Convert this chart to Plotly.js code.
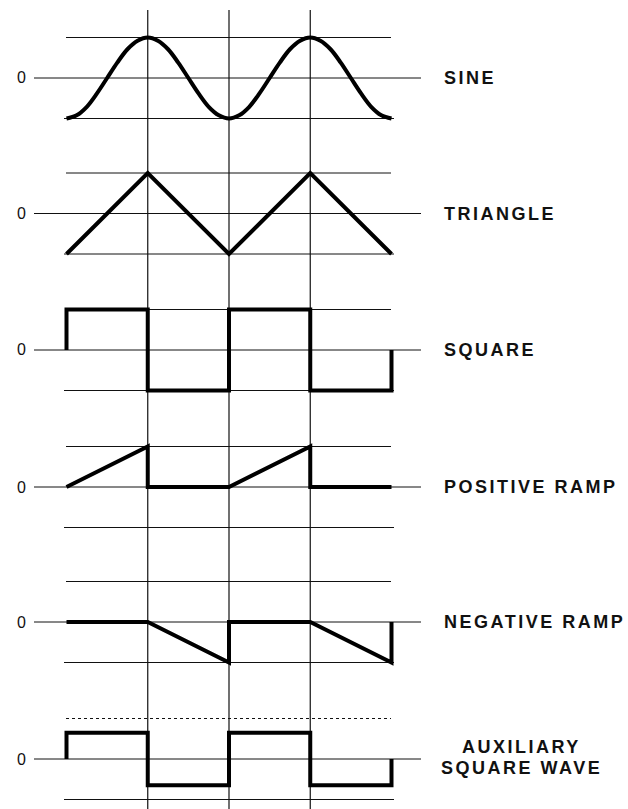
<!DOCTYPE html>
<html>
<head>
<meta charset="utf-8">
<script src="https://cdn.plot.ly/plotly-3.0.1.min.js"></script>
<style>
  html, body { margin: 0; padding: 0; background: #fff; }
  #chart { width: 628px; height: 809px; }
  .annotation-text { letter-spacing: 2.5px; }
</style>
</head>
<body>
<div id="chart"></div>
<script>
// Time axis: one unit = half a period of each waveform
const sineX = [0, 0.125, 0.25, 0.375, 0.5, 0.625, 0.75, 0.875, 1,
               1.125, 1.25, 1.375, 1.5, 1.625, 1.75, 1.875, 2,
               2.125, 2.25, 2.375, 2.5, 2.625, 2.75, 2.875, 3,
               3.125, 3.25, 3.375, 3.5, 3.625, 3.75, 3.875, 4];
const sineY = [-1, -0.92, -0.71, -0.38, 0, 0.38, 0.71, 0.92, 1,
               0.92, 0.71, 0.38, 0, -0.38, -0.71, -0.92, -1,
               -0.92, -0.71, -0.38, 0, 0.38, 0.71, 0.92, 1,
               0.92, 0.71, 0.38, 0, -0.38, -0.71, -0.92, -1];

const triangleX = [0, 1, 2, 3, 4];
const triangleY = [-1, 1, -1, 1, -1];

const squareX = [0, 0, 1, 1, 2, 2, 3, 3, 4, 4];
const squareY = [0, 1, 1, -1, -1, 1, 1, -1, -1, 0];

const posRampX = [0, 1, 1, 2, 3, 3, 4];
const posRampY = [0, 1, 0, 0, 1, 0, 0];

const negRampX = [0, 1, 2, 2, 3, 4, 4];
const negRampY = [0, 0, -1, 0, 0, -1, 0];

const auxX = [0, 0, 1, 1, 2, 2, 3, 3, 4, 4];
const auxY = [0, 0.65, 0.65, -0.65, -0.65, 0.65, 0.65, -0.65, -0.65, 0];

const waveNames = ["SINE", "TRIANGLE", "SQUARE", "POSITIVE RAMP", "NEGATIVE RAMP"];
const auxNames = ["AUXILIARY", "SQUARE WAVE"];
const zeroLabel = "0";
const markerTimes = [1, 2, 3];

const waves = [
  [sineX, sineY, "spline"],
  [triangleX, triangleY, "linear"],
  [squareX, squareY, "linear"],
  [posRampX, posRampY, "linear"],
  [negRampX, negRampY, "linear"],
  [auxX, auxY, "linear"]
];

// Layout geometry (pixels)
const W = 628, H = 809;
const x0px = 66.5, unitPx = 81.25;          // x = 0 position and width of one unit
const zeroRows = [78, 213.5, 350, 487, 622, 759]; // zero line of each strip
const pxPerY = 40.5, yHalf = 1.2;
const toX = px => (px - x0px) / unitPx;

const layout = {
  width: W, height: H,
  margin: {l: 0, r: 0, t: 0, b: 0, pad: 0},
  paper_bgcolor: "#fff", plot_bgcolor: "rgba(0,0,0,0)",
  showlegend: false,
  xaxis: {range: [toX(0), toX(W)], visible: false, fixedrange: true},
  shapes: [], annotations: []
};

const traces = [];
const lineCol = "#111";
const labelFont = {family: "Liberation Sans, Arial, sans-serif", size: 18, weight: "bold", color: "#111"};

waves.forEach((w, i) => {
  const axName = i === 0 ? "yaxis" : "yaxis" + (i + 1);
  const ref = i === 0 ? "y" : "y" + (i + 1);
  const z = zeroRows[i];
  const half = yHalf * pxPerY;
  layout[axName] = {
    domain: [1 - (z + half) / H, 1 - (z - half) / H],
    range: [-yHalf, yHalf], visible: false, fixedrange: true, anchor: "x"
  };

  // reference levels: +1, 0, -1
  layout.shapes.push({type: "line", xref: "x", yref: ref, x0: toX(66), x1: toX(391),
    y0: 1, y1: 1, line: {color: lineCol, width: 1, dash: i === 5 ? "dot" : "solid"}, layer: "below"});
  layout.shapes.push({type: "line", xref: "x", yref: ref, x0: toX(64), x1: toX(394),
    y0: -1, y1: -1, line: {color: lineCol, width: 1}, layer: "below"});
  layout.shapes.push({type: "line", xref: "x", yref: ref, x0: toX(34), x1: toX(421),
    y0: 0, y1: 0, line: {color: lineCol, width: 1}, layer: "below"});

  traces.push({
    x: w[0], y: w[1], xaxis: "x", yaxis: ref,
    type: "scatter", mode: "lines",
    line: {color: "#000", width: 4, shape: w[2], smoothing: 1},
    hoverinfo: "skip"
  });

  layout.annotations.push({
    x: toX(22), y: 0, xref: "x", yref: ref, text: zeroLabel, showarrow: false,
    xanchor: "center", yanchor: "middle",
    font: {family: "Liberation Sans, Arial, sans-serif", size: 16, color: "#111"}
  });

  if (i < 5) {
    layout.annotations.push({
      x: toX(442), y: 0, xref: "x", yref: ref, text: waveNames[i], showarrow: false,
      xanchor: "left", yanchor: "middle", font: labelFont
    });
  }
});

// two-line label of the auxiliary output
[[auxNames[0], 747], [auxNames[1], 768]].forEach(([txt, py]) => {
  layout.annotations.push({
    x: toX(521), y: (zeroRows[5] - py) / pxPerY, xref: "x", yref: "y6", text: txt, showarrow: false,
    xanchor: "center", yanchor: "middle", font: labelFont
  });
});

// time markers running through every strip
markerTimes.forEach(t => {
  layout.shapes.push({type: "line", xref: "x", yref: "paper", x0: t, x1: t,
    y0: 0, y1: 1 - 10 / H, line: {color: lineCol, width: 1.2}, layer: "below"});
});

Plotly.newPlot("chart", traces, layout, {staticPlot: true, displayModeBar: false});
</script>
</body>
</html>
